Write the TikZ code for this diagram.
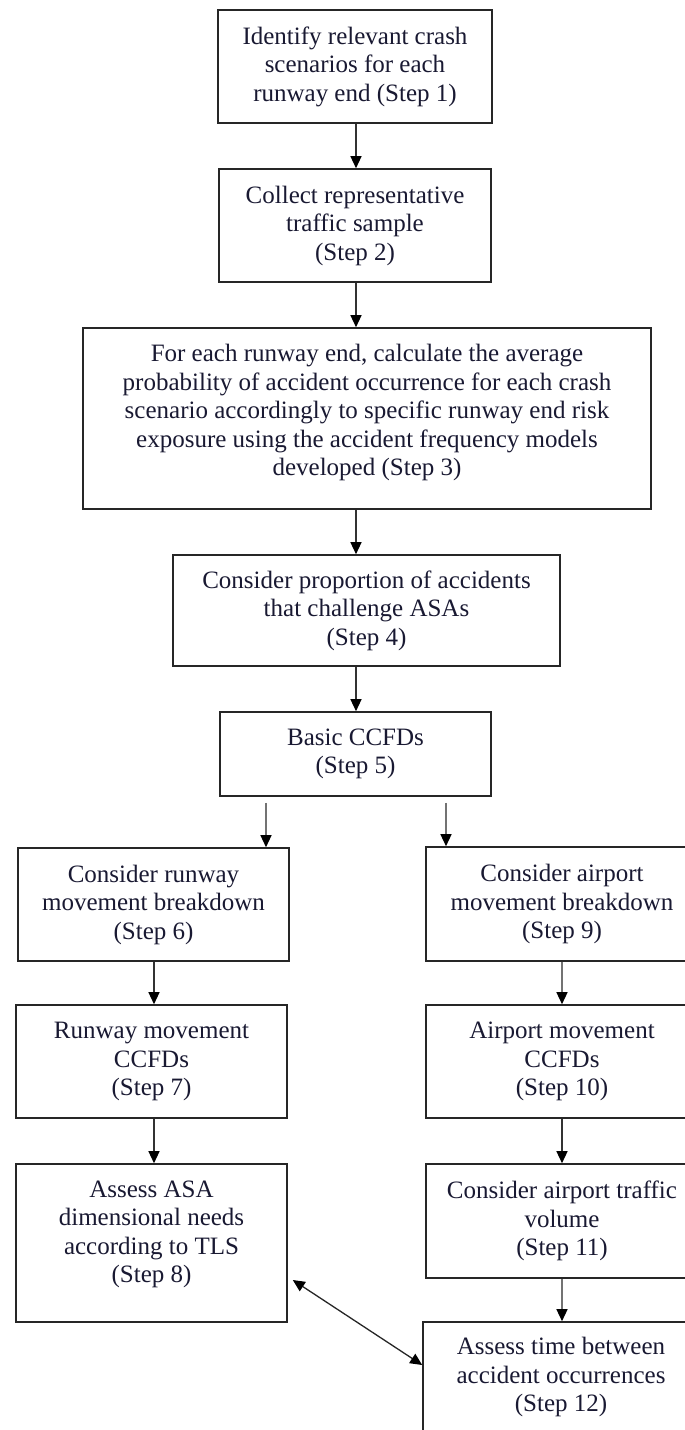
\documentclass[tikz,border=0pt]{standalone}
\usepackage{fontspec}
\setmainfont{Liberation Serif}
\usetikzlibrary{arrows.meta}
\definecolor{txt}{RGB}{25,25,50}
\begin{document}
\begin{tikzpicture}[x=1pt,y=-1pt,
  box/.style={draw=black!85,line width=1.6pt,rectangle,align=center,inner sep=0pt,
    font=\fontsize{25}{28.5}\selectfont,text=txt},
  arr/.style={line width=1.3pt,draw=black!80,-{Triangle[length=12pt,width=11pt,color=black]}},
  arrg/.style={line width=1.3pt,draw=black!55,-{Triangle[length=12pt,width=11pt,color=black]}},
  dbl/.style={line width=1.3pt,draw=black!85,{Triangle[length=12pt,width=11pt,color=black]}-{Triangle[length=12pt,width=11pt,color=black]}}
]
\clip (0,0) rectangle (685,1430);
\fill[white] (0,0) rectangle (685,1430);
\coordinate (cx) at (356,0);
\coordinate (lx) at (154,0);
\coordinate (rx) at (562,0);
\coordinate (sl) at (266,0);
\coordinate (sr) at (446,0);

\node[box,minimum width=274pt,minimum height=113pt] (b1) at (355,66.5)
  {Identify relevant crash\\scenarios for each\\runway end (Step 1)};
\node[box,minimum width=272pt,minimum height=113pt] (b2) at (355,225.5)
  {Collect representative\\traffic sample\\(Step 2)};
\node[box,minimum width=568pt,minimum height=181pt,text depth=17pt] (b3) at (367,418.5)
  {For each runway end, calculate the average\\probability of accident occurrence for each crash\\scenario accordingly to specific runway end risk\\exposure using the accident frequency models\\developed (Step 3)};
\node[box,minimum width=387pt,minimum height=111pt] (b4) at (366.5,610.5)
  {Consider proportion of accidents\\that challenge ASAs\\(Step 4)};
\node[box,minimum width=271pt,minimum height=84pt] (b5) at (355.5,754)
  {Basic CCFDs\\(Step 5)};
\node[box,minimum width=271pt,minimum height=113pt] (b6) at (153.5,904.5)
  {Consider runway\\movement breakdown\\(Step 6)};
\node[box,minimum width=271pt,minimum height=113pt] (b7) at (151.5,1061.5)
  {Runway movement\\CCFDs\\(Step 7)};
\node[box,minimum width=271pt,minimum height=158pt,text depth=23pt] (b8) at (151.5,1243)
  {Assess ASA\\dimensional needs\\according to TLS\\(Step 8)};
\node[box,minimum width=272pt,minimum height=114pt] (b9) at (562,904)
  {Consider airport\\movement breakdown\\(Step 9)};
\node[box,minimum width=272pt,minimum height=113pt] (b10) at (562,1061.5)
  {Airport movement\\CCFDs\\(Step 10)};
\node[box,minimum width=272pt,minimum height=114pt] (b11) at (562,1221)
  {Consider airport traffic\\volume\\(Step 11)};
\node[box,minimum width=276pt,minimum height=110pt] (b12) at (561,1377)
  {Assess time between\\accident occurrences\\(Step 12)};

\draw[arr] (b1.south -| cx) -- (b2.north -| cx);
\draw[arr] (b2.south -| cx) -- (b3.north -| cx);
\draw[arr] (b3.south -| cx) -- (b4.north -| cx);
\draw[arr] (b4.south -| cx) -- (b5.north -| cx);
\draw[arrg] ([yshift=-6pt]b5.south -| sl) -- (b6.north -| sl);
\draw[arrg] ([yshift=-6pt]b5.south -| sr) -- (b9.north -| sr);
\draw[arr] (b6.south -| lx) -- (b7.north -| lx);
\draw[arr] (b7.south -| lx) -- (b8.north -| lx);
\draw[arrg] (b9.south -| rx) -- (b10.north -| rx);
\draw[arr] (b10.south -| rx) -- (b11.north -| rx);
\draw[arrg] (b11.south -| rx) -- (b12.north -| rx);
\draw[dbl] ([xshift=5pt,yshift=-37pt]b8.east) -- ([yshift=12pt]b12.west);
\end{tikzpicture}
\end{document}
